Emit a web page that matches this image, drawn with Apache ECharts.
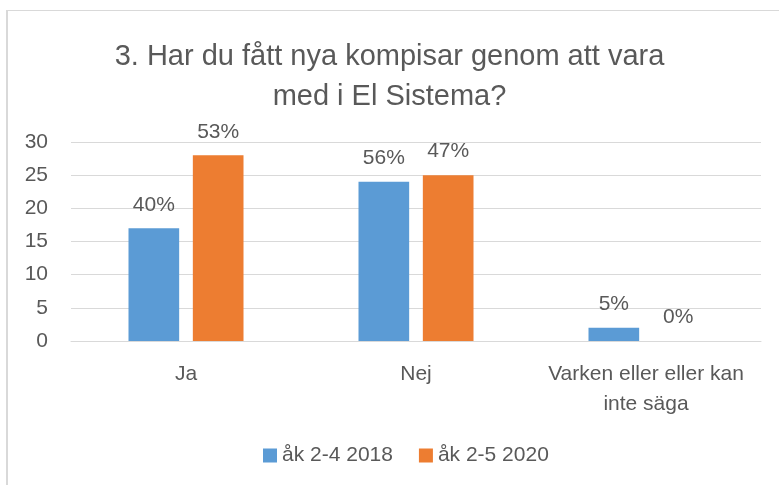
<!DOCTYPE html>
<html>
<head>
<meta charset="utf-8">
<script src="https://cdn.jsdelivr.net/npm/echarts@6/dist/echarts.min.js"></script>
<style>
html,body{margin:0;padding:0;background:#fff;}
#frame{position:absolute;left:6px;top:10px;width:773px;height:475px;border-left:2px solid #d9d9d9;border-top:1px solid #d9d9d9;}
#main{position:absolute;left:0;top:0;width:779px;height:485px;}
</style>
</head>
<body>
<div id="frame"></div>
<div id="main"></div>
<script>
var categories = ['Ja', 'Nej', 'Varken eller eller kan\ninte säga'];
var seriesNames = ['åk 2-4 2018', 'åk 2-5 2020'];
var values2018 = [17, 24, 2];
var values2020 = [28, 25, 0];
var pct2018 = ['40%', '56%', '5%'];
var pct2020 = ['53%', '47%', '0%'];
var yTicks = [0, 5, 10, 15, 20, 25, 30];

var fontName = 'Liberation Sans';
var textCol = '#595959';

function labelOf(pcts){
	return {
		show: true,
		position: 'top',
		distance: 13,
		fontFamily: fontName,
		fontSize: 21,
		color: textCol,
		formatter: function(p){ return pcts[p.dataIndex]; }
	};
}

var myChart = echarts.init(document.getElementById('main'));
var option = {
	animation: false,
	title: {
		text: '3. Har du fått nya kompisar genom att vara\nmed i El Sistema?',
		left: 'center',
		top: 32,
		textStyle: {
			fontFamily: fontName,
			fontSize: 29,
			fontWeight: 'normal',
			color: textCol,
			lineHeight: 40
		}
	},
	legend: {
		data: seriesNames,
		bottom: 14,
		left: 258,
		itemWidth: 14,
		itemHeight: 14,
		itemGap: 26,
		icon: 'rect',
		textStyle: { fontFamily: fontName, fontSize: 21, color: textCol }
	},
	grid: { left: 71, right: 18, top: 142, bottom: 144 },
	xAxis: {
		type: 'category',
		data: categories,
		axisLine: { lineStyle: { color: '#d9d9d9' } },
		axisTick: { show: false },
		axisLabel: {
			fontFamily: fontName, fontSize: 21, color: textCol,
			lineHeight: 30, margin: 18, interval: 0
		}
	},
	yAxis: {
		type: 'value',
		min: yTicks[0],
		max: yTicks[yTicks.length - 1],
		interval: 5,
		axisLine: { show: false },
		axisTick: { show: false },
		splitLine: { lineStyle: { color: '#d9d9d9' } },
		axisLabel: { fontFamily: fontName, fontSize: 21, color: textCol, margin: 23 }
	},
	series: [
		{
			name: seriesNames[0], type: 'bar', data: values2018,
			itemStyle: { color: '#5b9bd5' },
			barGap: '27%', barCategoryGap: '50%',
			label: labelOf(pct2018)
		},
		{
			name: seriesNames[1], type: 'bar', data: values2020,
			itemStyle: { color: '#ed7d31' },
			barGap: '27%', barCategoryGap: '50%',
			label: labelOf(pct2020)
		}
	]
};
myChart.setOption(option);
</script>
</body>
</html>
